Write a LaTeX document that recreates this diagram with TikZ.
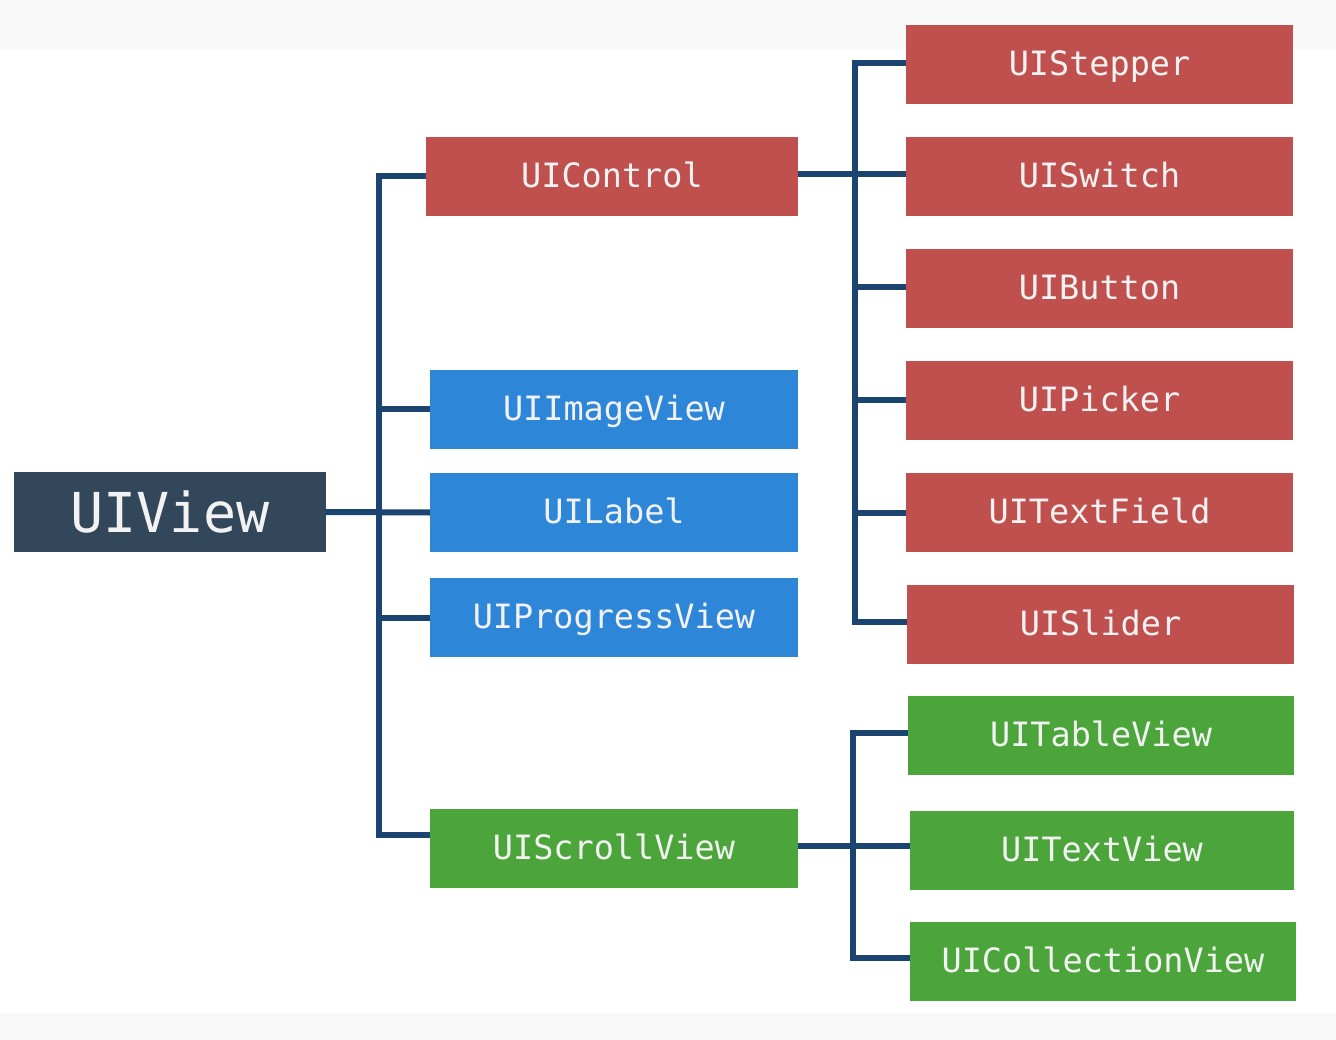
\documentclass[tikz,border=0pt]{standalone}
\usepackage{fontspec}
\newfontfamily\lblfont{DejaVu Sans Mono}
\definecolor{cdark}{HTML}{33475B}
\definecolor{cred}{HTML}{C0504E}
\definecolor{cblue}{HTML}{2E86D8}
\definecolor{cgreen}{HTML}{4CA53A}
\definecolor{cline}{HTML}{1B4470}
\definecolor{cband}{HTML}{F9F9F9}
\tikzset{
  box/.style={rectangle, inner sep=0pt, text=white!95!black,
    font=\lblfont\fontsize{33.5}{40}\selectfont,
    text height=22pt, text depth=-2pt},
  redbox/.style={box, fill=cred},
  bluebox/.style={box, fill=cblue},
  greenbox/.style={box, fill=cgreen},
  conn/.style={draw=cline, line width=6pt}
}
\begin{document}
\begin{tikzpicture}[x=1pt,y=-1pt]
\useasboundingbox (0,0) rectangle (1336,1040);
\fill[white] (0,0) rectangle (1336,1040);
\fill[cband] (0,0) rectangle (1336,50);
\fill[cband] (0,1013) rectangle (1336,1040);

% root
\node[box, fill=cdark, minimum width=312, minimum height=80,
  font=\lblfont\fontsize{55}{64}\selectfont,
  text height=40pt, text depth=0pt] (uiview) at (170,512) {UIView};

% level 1
\node[redbox, minimum width=372, minimum height=79] (uicontrol) at (612,176.5) {UIControl};
\node[bluebox, minimum width=368, minimum height=79] (uiimage) at (614,409.5) {UIImageView};
\node[bluebox, minimum width=368, minimum height=79] (uilabel) at (614,512.5) {UILabel};
\node[bluebox, minimum width=368, minimum height=79] (uiprogress) at (614,617.5) {UIProgressView};
\node[greenbox, minimum width=368, minimum height=79] (uiscroll) at (614,848.5) {UIScrollView};

% level 2 (controls)
\node[redbox, minimum width=387, minimum height=79] (uistepper) at (1099.5,64.5) {UIStepper};
\node[redbox, minimum width=387, minimum height=79] (uiswitch) at (1099.5,176.5) {UISwitch};
\node[redbox, minimum width=387, minimum height=79] (uibutton) at (1099.5,288.5) {UIButton};
\node[redbox, minimum width=387, minimum height=79] (uipicker) at (1099.5,400.5) {UIPicker};
\node[redbox, minimum width=387, minimum height=79] (uitextfield) at (1099.5,512.5) {UITextField};
\node[redbox, minimum width=387, minimum height=79] (uislider) at (1100.5,624.5) {UISlider};

% level 2 (scroll views)
\node[greenbox, minimum width=386, minimum height=79] (uitable) at (1101,735.5) {UITableView};
\node[greenbox, minimum width=384, minimum height=79] (uitextview) at (1102,850.5) {UITextView};
\node[greenbox, minimum width=386, minimum height=79] (uicollection) at (1103,961.5) {UICollectionView};

% connectors from UIView
\draw[conn] (uiview.east) -- (uilabel.west);
\draw[conn] (uiview.east) ++(53,0) |- (uicontrol.west);
\draw[conn] (uiview.east) ++(53,0) |- (uiimage.west);
\draw[conn] (uiview.east) ++(53,0) |- (uiprogress.west);
\draw[conn] (uiview.east) ++(53,0) |- ([yshift=14pt]uiscroll.west);

% connectors from UIControl
\draw[conn] ([yshift=2pt]uicontrol.east) -- ([yshift=2pt]uiswitch.west);
\draw[conn] ([yshift=2pt]uicontrol.east) ++(57,0) |- ([yshift=1.5pt]uistepper.west);
\draw[conn] ([yshift=2pt]uicontrol.east) ++(57,0) |- ([yshift=1.5pt]uibutton.west);
\draw[conn] ([yshift=2pt]uicontrol.east) ++(57,0) |- (uipicker.west);
\draw[conn] ([yshift=2pt]uicontrol.east) ++(57,0) |- (uitextfield.west);
\draw[conn] ([yshift=2pt]uicontrol.east) ++(57,0) |- ([yshift=2.5pt]uislider.west);

% connectors from UIScrollView
\draw[conn] ([yshift=2.5pt]uiscroll.east) -- ([yshift=4.5pt]uitextview.west);
\draw[conn] ([yshift=2.5pt]uiscroll.east) ++(55,0) |- ([yshift=2.5pt]uitable.west);
\draw[conn] ([yshift=2.5pt]uiscroll.east) ++(55,0) |- ([yshift=3.5pt]uicollection.west);
\end{tikzpicture}
\end{document}
